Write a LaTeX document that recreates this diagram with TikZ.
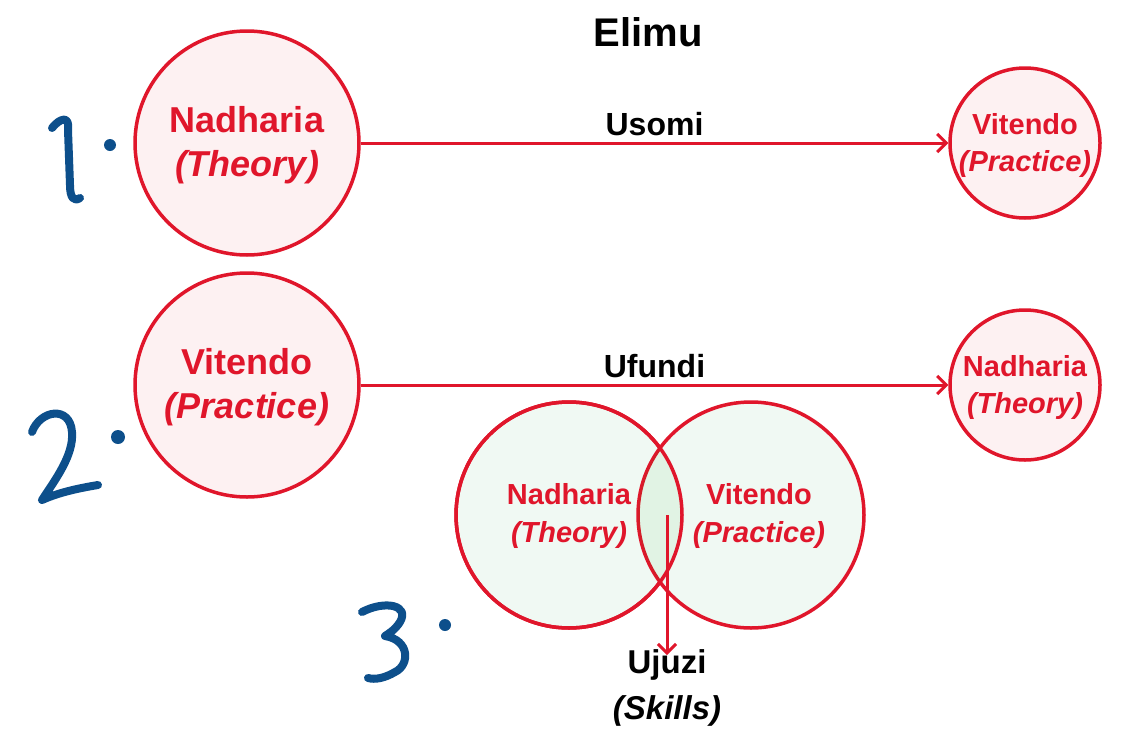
\documentclass[tikz,border=0pt]{standalone}
\usepackage{fontspec}
\setmainfont{Liberation Sans}
\usetikzlibrary{arrows.meta}
\begin{document}
\begin{tikzpicture}[x=1pt,y=-1pt,
  rc/.style={circle,draw=cred,line width=3.5pt,fill=pinkf,inner sep=0pt},
  gc/.style={circle,draw=cred,line width=3.5pt,fill=greenf,inner sep=0pt},
  arr/.style={draw=cred,line width=3pt,-{Straight Barb[length=9pt,width=18pt]}},
  lbl/.style={text=cred,font=\bfseries,align=center},
  hand/.style={draw=hblue,line width=8pt,line cap=round,line join=round}]
\definecolor{cred}{HTML}{E0162B}
\definecolor{pinkf}{HTML}{FDF1F2}
\definecolor{greenf}{HTML}{F0F9F3}
\definecolor{hblue}{HTML}{0D4F8B}
\useasboundingbox (0,0) rectangle (1127,739);
\node[font=\bfseries\fontsize{40}{44}\selectfont] (title) at (648,32) {Elimu};
\node[rc,minimum size=224pt] (c1) at (247,143) {};
\node[lbl,font=\bfseries\fontsize{36}{44}\selectfont] at (247,145) {Nadharia\\\textit{(Theory)}};
\node[rc,minimum size=150pt] (c2) at (1025,143) {};
\node[lbl,font=\bfseries\fontsize{29}{37}\selectfont] at (1025,145) {Vitendo\\\textit{(Practice)}};
\node[rc,minimum size=224pt] (c3) at (247,385) {};
\node[lbl,font=\bfseries\fontsize{36}{44}\selectfont] at (247,387) {Vitendo\\\textit{(Practice)}};
\node[rc,minimum size=150pt] (c4) at (1025,385) {};
\node[lbl,font=\bfseries\fontsize{29}{37}\selectfont] at (1025,387) {Nadharia\\\textit{(Theory)}};
\draw[arr] (c1.east) -- (c2.west) node[midway,above=2pt,text=black,font=\bfseries\fontsize{32}{36}\selectfont] {Usomi};
\draw[arr] (c3.east) -- (c4.west) node[midway,above=2pt,text=black,font=\bfseries\fontsize{32}{36}\selectfont] {Ufundi};
\node[gc,minimum size=226pt] (c5) at (569,515) {};
\node[gc,minimum size=226pt] (c6) at (751,515) {};
\begin{scope}
\clip (569,515) circle (113);
\fill[green!60!black,opacity=0.06] (751,515) circle (113);
\end{scope}
\draw[cred,line width=3.5pt] (569,515) circle (113);
\node[lbl,font=\bfseries\fontsize{29}{38}\selectfont] at (569,516) {Nadharia\\\textit{(Theory)}};
\node[lbl,font=\bfseries\fontsize{29}{38}\selectfont] at (759,516) {Vitendo\\\textit{(Practice)}};
\coordinate (top) at (667,515);
\node[align=center,font=\bfseries\fontsize{33}{46}\selectfont] (uj) at (667,688) {Ujuzi\\\textit{(Skills)}};
\draw[arr] (top) -- (667,655);
% handwritten numbers
\draw[hand] (52,128) .. controls (60,118) and (70,115) .. (68,130) -- (70,185) .. controls (70,198) and (74,202) .. (80,198);
\fill[hblue] (110,145) circle (6);
\draw[hand] (32,432) .. controls (40,410) and (70,405) .. (72,432) .. controls (74,455) and (55,480) .. (42,500) .. controls (60,492) and (80,488) .. (98,485);
\fill[hblue] (118,437) circle (7);
\draw[hand] (362,612) .. controls (385,600) and (410,605) .. (400,622) .. controls (395,630) and (388,634) .. (385,636) .. controls (410,640) and (410,665) .. (395,672) .. controls (385,678) and (375,680) .. (368,678);
\fill[hblue] (445,625) circle (6);
\end{tikzpicture}
\end{document}
